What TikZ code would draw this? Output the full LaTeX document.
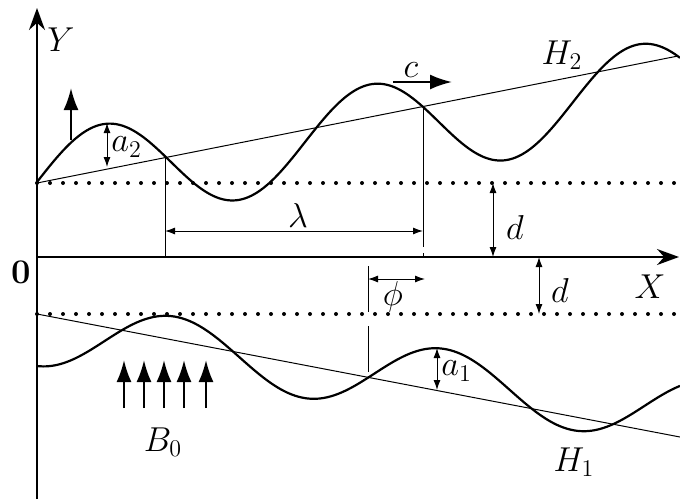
\documentclass[tikz,border=0pt]{standalone}
\usetikzlibrary{arrows.meta}
\tikzset{
  axis/.style={line width=0.8pt, -{Stealth[length=11pt,width=8pt]}},
  wave/.style={line width=1.1pt},
  slope/.style={line width=0.5pt},
  guide/.style={line width=0.5pt},
  level/.style={line width=2pt, line cap=round, dash pattern=on 0pt off 6.5pt},
  dim/.style={line width=0.5pt, {Latex[length=5pt,width=3.5pt]}-{Latex[length=5pt,width=3.5pt]}},
  push/.style={line width=1.1pt, -{Latex[length=11pt,width=7.5pt]}},
  lab/.style={font=\LARGE, inner sep=1pt}
}
\begin{document}
\begin{tikzpicture}[x=0.5pt, y=-0.5pt]
\useasboundingbox (0,0) rectangle (680,499);
\coordinate (o) at (37,257);
\coordinate (ytop) at (37,8);
\coordinate (ybot) at (37,499);
\coordinate (xend) at (679,257);
\draw[axis] (ybot) -- (ytop);
\draw[axis] (o) -- (xend);
\node[lab] (ylab) at (61,40) {$Y$};
\node[lab] (xlab) at (650,287) {$X$};
\node[lab] (zero) at (21,272) {\textbf{0}};
\coordinate (up1) at (37,183); \coordinate (up2) at (680,183);
\coordinate (lo1) at (37,314); \coordinate (lo2) at (680,314);
\draw[level] (up1) -- (up2);
\draw[level] (lo1) -- (lo2);
\coordinate (h2a) at (37,183); \coordinate (h2b) at (678,56);
\coordinate (h1a) at (37,314); \coordinate (h1b) at (680,437);
\draw[slope] (h2a) -- (h2b);
\draw[slope] (h1a) -- (h1b);
\draw[wave] plot[domain=37:680, samples=220] (\x, {182-0.149*(\x-37)-48*sin(1.3433*(\x-37))});
\draw[wave] plot[domain=37:680, samples=220] (\x, {333+0.12*(\x-37)+33*cos(1.3333*(\x-37))});
\node[lab] (h2lab) at (562,55) {$H_2$};
\node[lab] (h1lab) at (574,462) {$H_1$};
\coordinate (g1t) at (165,158); \coordinate (g1b) at (165,257);
\coordinate (g2t) at (423,107); \coordinate (g2b) at (423,257);
\coordinate (g3t) at (368,266); \coordinate (g3b) at (368,376);
\draw[guide] (g1t) -- (g1b);
\draw[guide, dash pattern=on 70pt off 3pt on 30pt off 3pt] (g2t) -- (g2b);
\draw[guide, dash pattern=on 23pt off 7pt] (g3t) -- (g3b);
\coordinate (la) at (165,231); \coordinate (lb) at (423,231);
\draw[dim] (la) -- (lb);
\node[lab] (lam) at (298,215) {$\lambda$};
\coordinate (pa) at (368,279); \coordinate (pb) at (425,279);
\draw[dim] (pa) -- (pb);
\node[lab] (phi) at (393,297) {$\phi$};
\coordinate (d1a) at (493,183); \coordinate (d1b) at (493,257);
\draw[dim] (d1a) -- (d1b);
\node[lab] (d1) at (515,227) {$d$};
\coordinate (d2a) at (539,257); \coordinate (d2b) at (539,314);
\draw[dim] (d2a) -- (d2b);
\node[lab] (d2) at (560,290) {$d$};
\coordinate (a2a) at (107,123); \coordinate (a2b) at (107,167);
\draw[dim] (a2a) -- (a2b);
\node[lab, anchor=west] (a2) at (109,147) {$a_2$};
\coordinate (a1a) at (437,348); \coordinate (a1b) at (437,390);
\draw[dim] (a1a) -- (a1b);
\node[lab, anchor=west] (a1) at (439,371) {$a_1$};
\coordinate (va) at (71,140); \coordinate (vb) at (71,88);
\draw[push] (va) -- (vb);
\coordinate (ca) at (393,82); \coordinate (cb) at (452,82);
\draw[push] (ca) -- (cb);
\node[lab] (clab) at (411,70) {$c$};
\foreach \bx in {124,144,164,184,206}
  \draw[push] (\bx,408) -- (\bx,360);
\node[lab] (b0) at (163,442) {$B_0$};
\end{tikzpicture}
\end{document}
